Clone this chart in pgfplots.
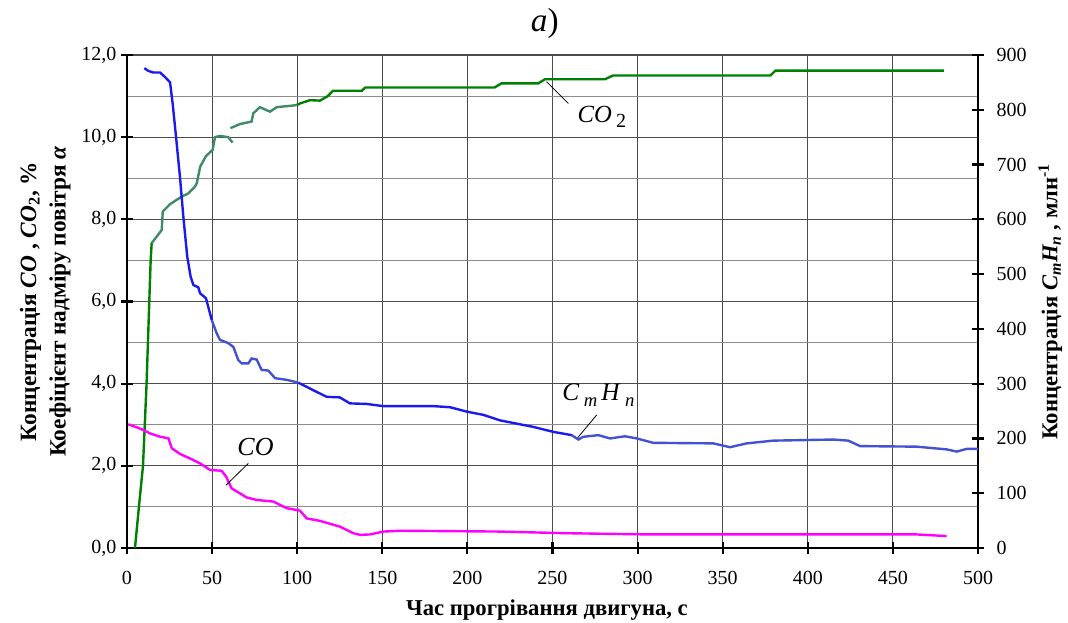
\documentclass[border=0pt]{standalone}
\usepackage{fontspec}
\setmainfont{Liberation Serif}
\usepackage{pgfplots}
\pgfplotsset{compat=1.18}

\definecolor{hcblue}{HTML}{1A1AF0}
\definecolor{hcsoft}{HTML}{4252D2}
\definecolor{comag}{HTML}{FF00FF}
\definecolor{codark}{HTML}{008000}
\definecolor{coteal}{HTML}{3F8A68}

\begin{document}
\begin{tikzpicture}
\path[use as bounding box] (0,0) rectangle (801pt,466.5pt);

% ---------- left axis: CO, CO2 (%), alpha ----------
\begin{axis}[
  at={(95.25pt,55.5pt)}, anchor=south west,
  scale only axis, width=638.25pt, height=369.75pt,
  xmin=0, xmax=500, ymin=0, ymax=12,
  axis x line*=bottom, axis y line*=left,
  axis line style={-, line width=2pt, black},
  xtick={0,50,...,500},
  ytick={0,2,...,12},
  minor ytick={1,3,...,11},
  grid=both,
  major grid style={black!70, line width=0.8pt},
  minor grid style={black!45, line width=0.8pt},
  tick align=center,
  major tick length=9pt, minor tick length=0pt,
  every tick/.style={black, line width=1.6pt},
  tick label style={font=\fontsize{15}{17}\selectfont},
  yticklabel style={/pgf/number format/.cd, fixed, fixed zerofill, precision=1, use comma, assume math mode=true},
  xticklabel style={/pgf/number format/assume math mode=true, yshift=-9pt},
  xlabel={\textbf{Час прогрівання двигуна, с}},
  xlabel style={font=\fontsize{17}{19}\selectfont, at={(axis description cs:0.4935,-0.125)}, anchor=center},
  ylabel={\textbf{Концентрація \textit{CO} , \textit{CO}\textsubscript{2}, \%}\\[3pt]\textbf{Коефіцієнт надміру повітря \textit{α}}},
  ylabel style={font=\fontsize{17.5}{19}\selectfont, align=center, at={(axis description cs:-0.096,0.5)}, anchor=center},
  title={\textit{a})},
  title style={font=\fontsize{25}{27}\selectfont, at={(axis description cs:0.491,1.048)}, anchor=center},
  clip=false,
]
% CO2, first rise
\addplot[codark, line width=1.8pt] coordinates {
(4.7,0) (7,1.0) (9.4,2.0) (11.5,4.0) (13.1,6.0) (13.9,7.0) (14.5,7.42)
};
% CO2, middle part
\addplot[coteal, line width=1.8pt] coordinates {
(14.5,7.42) (20.4,7.74) (21,8.19) (25.3,8.37) (32,8.55) (36,8.63) (40,8.8) (41,8.88)
(43,9.28) (46.4,9.54) (50.3,9.69) (51.7,10.0) (54.6,10.03) (59.5,10.0) (62,9.87)
};
\addplot[coteal, line width=1.8pt] coordinates {
(60.8,10.22) (66.4,10.32) (73.2,10.38) (74.2,10.58) (78.1,10.73) (84,10.62) (88,10.73) (99.7,10.78)
};
% CO2, plateau
\addplot[codark, line width=1.8pt] coordinates {
(99.7,10.78) (101.6,10.82) (107.5,10.9) (113.4,10.89) (118,11.0) (121,11.13) (138,11.13)
(140,11.21) (216,11.21) (220,11.31) (241.6,11.31) (245.6,11.41) (280.8,11.41)
(285.5,11.5) (378,11.5) (381,11.62) (480,11.62)
};
% CO
\addplot[comag, line width=1.8pt] coordinates {
(0.8,3.01) (7.6,2.91) (13.5,2.79) (19.4,2.71) (24.3,2.67) (26.3,2.43) (31.1,2.29)
(37,2.18) (42.9,2.06) (48.8,1.9) (55.6,1.88) (58.2,1.74) (61.5,1.45) (66.4,1.33)
(70.3,1.23) (76.2,1.17) (86,1.13) (93.8,0.97) (101.6,0.91) (105.6,0.72) (113.4,0.66)
(125.1,0.52) (133,0.36) (136.9,0.32) (142.8,0.33) (150.6,0.4) (160.4,0.42) (219,0.4)
(258,0.36) (307,0.33) (464,0.33) (481.6,0.29)
};
% curve labels with leaders
\node[font=\fontsize{19.5}{21}\selectfont\itshape] at (axis cs:75.5,2.46) {CO};
\draw[black, line width=0.6pt] (axis cs:71.3,2.06) -- (axis cs:58.2,1.53);
\node[font=\fontsize{18.5}{20}\selectfont] at (axis cs:279,10.49) {\textit{CO}\,\raisebox{-0.45ex}{\fontsize{15}{15}\selectfont 2}};
\draw[black, line width=0.6pt] (axis cs:246.5,11.35) -- (axis cs:259.3,10.82);
\node[font=\fontsize{19}{21}\selectfont] at (axis cs:277,3.72) {\textit{C}\,\raisebox{-0.45ex}{\fontsize{14}{14}\selectfont\textit{m}}\,\textit{H}\,\raisebox{-0.45ex}{\fontsize{14}{14}\selectfont\textit{n}}};
\draw[black, line width=0.6pt] (axis cs:276,3.24) -- (axis cs:264.5,2.67);
\end{axis}

% ---------- right axis: CmHn (ppm) ----------
\begin{axis}[
  at={(95.25pt,55.5pt)}, anchor=south west,
  scale only axis, width=638.25pt, height=369.75pt,
  xmin=0, xmax=500, ymin=0, ymax=900,
  axis x line=none, axis y line*=right,
  axis line style={-, line width=2pt, black},
  ytick={0,100,...,900},
  tick align=center, major tick length=9pt,
  every tick/.style={black, line width=1.6pt},
  tick label style={font=\fontsize{15}{17}\selectfont},
  yticklabel style={/pgf/number format/assume math mode=true, xshift=6pt},
  ylabel={\textbf{Концентрація \textit{C\textsubscript{m}H\textsubscript{n}} , млн\textsuperscript{-1}}},
  ylabel style={font=\fontsize{17}{19}\selectfont, at={(axis description cs:1.085,0.5)}, anchor=center},
]
\addplot[hcblue, line width=1.8pt] coordinates {
(10.2,876) (12.5,871) (15.5,868) (19.4,868) (22.3,860) (25.3,850) (26.8,812) (28.8,751)
(31.1,678) (33.1,605) (35.4,532) (37.4,495) (39,480) (41.9,476) (42.9,465) (46.4,456) (49.8,416)
};
\addplot[hcsoft, line width=1.8pt] coordinates {
(49.8,416) (52.7,392) (54.6,380) (59.5,374) (62.5,367) (65.4,343) (67.4,337) (71.3,337)
(73.2,346) (76.2,344) (79.1,325) (83,324) (87,310) (93.8,307) (100.6,302)
};
\addplot[hcblue, line width=1.8pt] coordinates {
(100.6,302) (109.5,288) (117.3,276) (125,275) (131,264) (140.8,263) (150.6,259) (180,259)
(189.8,257) (199.6,249) (209.4,243) (219.2,233) (238.8,221) (250.5,212) (261.3,206)
};
\addplot[hcsoft, line width=1.8pt] coordinates {
(261.3,206) (265.2,198) (268.1,203) (276.9,206) (283.8,200) (292.6,204) (299.5,200) (309.2,192)
(344.5,191) (354.3,184) (364.1,191) (379.7,196) (415,198) (423.8,196) (430.7,186) (464,185)
(481.6,180) (487.5,176) (493.4,181) (500,181)
};
\end{axis}
\end{tikzpicture}
\end{document}
